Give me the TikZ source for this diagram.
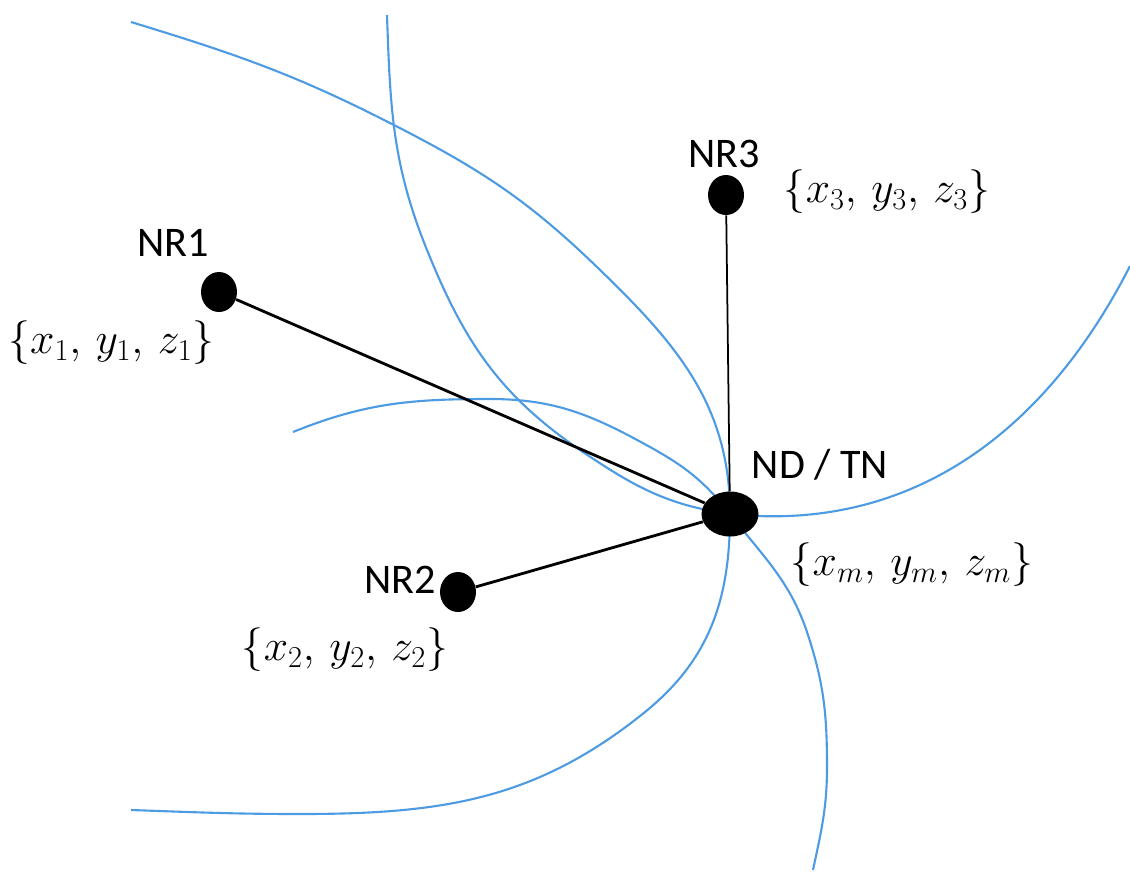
\documentclass[tikz,border=0pt]{standalone}
\usepackage{fontspec}
\setsansfont{Carlito}
\usepackage{tikz}
\usetikzlibrary{positioning,shapes.geometric}
\definecolor{ringBlue}{HTML}{4C9BE3}

\begin{document}
\begin{tikzpicture}[x=0.02cm,y=-0.02cm,
  font=\fontsize{24}{28}\selectfont,
  station/.style={ellipse,fill=black,inner sep=0pt,minimum width=0.72cm,minimum height=0.8cm},
  link/.style={line width=1.6pt},
  ring/.style={ringBlue,line width=1.2pt},
  nrtext/.style={font=\fontsize{24}{28}\selectfont\sffamily}]
\useasboundingbox (0,0) rectangle (1130,873);
% range circles, all meeting at the target
\draw[ring] (131,22) to[out=-17,in=153] (390,123) to[out=-27,in=136] (597,267)
  to[out=-44,in=90] (730,514) to[out=-90,in=39] (645,712)
  to[out=219,in=0] (300,814) to[out=180,in=-2] (131,810);
\draw[ring] (387,15) to[out=-88,in=112] (427,250) to[out=-68,in=146] (583,452)
  to[out=-34,in=172] (730,514) to[out=-6,in=243] (1130,266);
\draw[ring] (293,432) to[out=22,in=180] (490,399) to[out=0,in=151] (650,447)
  to[out=-29,in=128] (730,514) to[out=-52,in=108] (808,635)
  to[out=-72,in=90] (827,767) to[out=-90,in=78] (813,870);
% reference nodes and target
\node[station] (nr1) at (219,292) {};
\node[station] (nr2) at (458,592) {};
\node[station] (nr3) at (726,195) {};
\node[station,minimum width=1.14cm,minimum height=0.9cm] (nd) at (730,514) {};
\draw[link] (nr1) -- (nd);
\draw[link] (nr2) -- (nd);
\draw[link,line width=1pt] (nr3) -- (nd);
% labels
\node[nrtext] (nr1-tag) at (173,243) {NR1};
\node[nrtext] (nr2-tag) at (400,580) {NR2};
\node[nrtext] (nr3-tag) at (724,154) {NR3};
\node[nrtext] (nd-tag) at (820,465) {ND / TN};
\node[anchor=west,inner sep=0pt] (nr1-pos) at (8,343) {$\{x_1,\, y_1,\, z_1\}$};
\node (nr2-pos) at (345,650) {$\{x_2,\, y_2,\, z_2\}$};
\node (nr3-pos) at (887,192) {$\{x_3,\, y_3,\, z_3\}$};
\node (nd-pos) at (912,565) {$\{x_m,\, y_m,\, z_m\}$};
\end{tikzpicture}
\end{document}
